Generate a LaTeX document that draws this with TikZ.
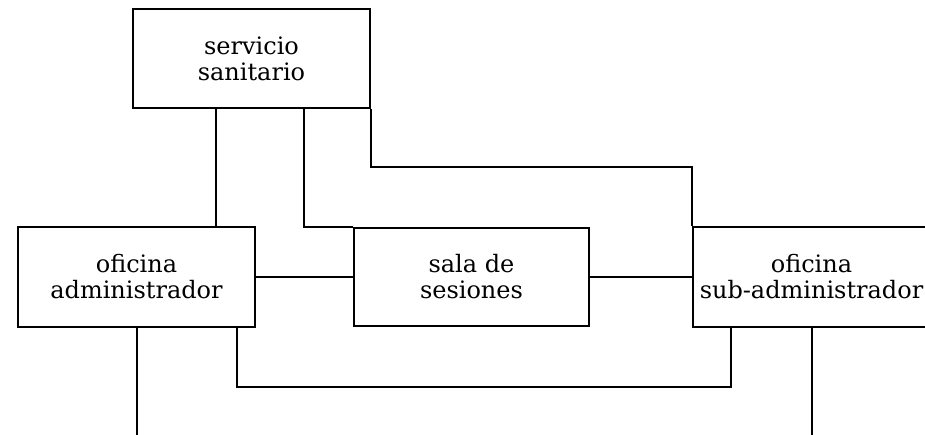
\documentclass[tikz,border=0pt]{standalone}
\usepackage{fontspec}
\setmainfont{DejaVu Serif}
\begin{document}
\begin{tikzpicture}[x=1pt,y=-1pt,
  box/.style={draw,line width=1.6pt,rectangle,align=center,inner sep=0pt,
    font=\fontsize{24}{26}\selectfont},
  wire/.style={line width=1.6pt}]
\useasboundingbox (0,0) rectangle (925,434);
\clip (0,0) rectangle (925,434);
\node[box,minimum width=237,minimum height=99] (serv) at (251.5,58.5) {servicio\\sanitario};
\node[box,minimum width=237,minimum height=100] (admin) at (136.5,277) {oficina\\administrador};
\node[box,minimum width=235,minimum height=98] (sala) at (471.5,277) {sala de\\sesiones};
\node[box,minimum width=237,minimum height=100] (sub) at (811.5,277) {oficina\\sub-administrador};
\coordinate (c1) at (216,0);
\coordinate (c2) at (304,0);
\coordinate (c4) at (237,0);
\coordinate (c5) at (731,0);
\coordinate (c6) at (137,0);
\coordinate (c7) at (812,0);
\coordinate (bot) at (0,440);
\draw[wire] (serv.south -| c1) -- (admin.north -| c1);
\draw[wire] (serv.south -| c2) |- (sala.north west);
\draw[wire] (serv.south east) -- ++(0,58) -| (sub.north west);
\draw[wire] (admin.east) -- (sala.west);
\draw[wire] (sala.east) -- (sub.west);
\draw[wire] (admin.south -| c4) -- ++(0,59) -| (sub.south -| c5);
\draw[wire] (admin.south -| c6) -- (bot -| c6);
\draw[wire] (sub.south -| c7) -- (bot -| c7);
\end{tikzpicture}
\end{document}
